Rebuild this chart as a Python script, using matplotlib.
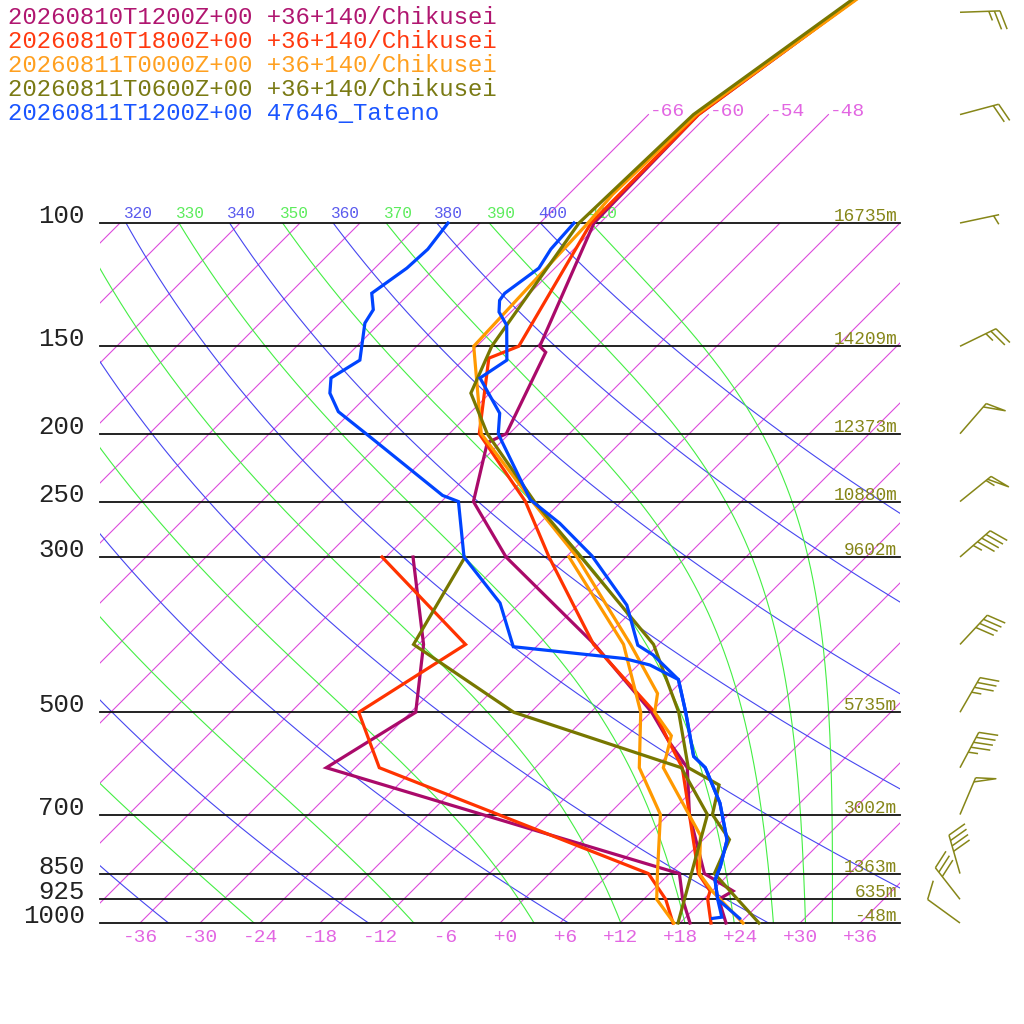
import numpy as np
import matplotlib
matplotlib.use('Agg')
import matplotlib.pyplot as plt
from matplotlib.patches import Rectangle
from matplotlib.transforms import IdentityTransform

# sounding data: pressure (hPa), temperature / dew point (degC)
legend_names = ['20260810T1200Z+00 +36+140/Chikusei',
                '20260810T1800Z+00 +36+140/Chikusei',
                '20260811T0000Z+00 +36+140/Chikusei',
                '20260811T0600Z+00 +36+140/Chikusei',
                '20260811T1200Z+00 47646_Tateno']
line_colors = ['#aa0a6a', '#ff3300', '#ff9900', '#777700', '#0044ff']
text_colors = ['#b01670', '#ff3a10', '#ffa020', '#7a7a14', '#1a55ff']

p_t1 = [30, 50, 70, 100, 150, 153, 200, 206, 250, 300, 400, 500, 550, 600, 700, 850, 900, 925, 1000]
t_1 = [-51.4, -57.3, -61.0, -60.6, -53.7, -52.5, -48.3, -49.3, -44.8, -36.0, -18.4, -5.9, -1.3, 3.2, 8.1,
       15.5, 20.1, 19.5, 22.6]
p_d1 = [300, 400, 500, 600, 850, 925, 1000]
td_1 = [-45.3, -35.5, -29.5, -32.9, 13.0, 15.9, 19.0]

p_t2 = [30, 50, 70, 100, 150, 156, 200, 250, 300, 400, 500, 550, 600, 700, 850, 900, 925, 1000]
t_2 = [-51.4, -57.3, -61.0, -60.9, -55.8, -57.6, -51.0, -39.6, -31.7, -18.5, -5.6, -1.3, 2.7, 8.1,
       14.9, 17.8, 18.4, 21.1]
p_d2 = [300, 400, 500, 600, 850, 925, 1000]
td_2 = [-48.4, -31.3, -35.2, -27.6, 9.9, 14.2, 17.3]

p_t3 = [30, 50, 70, 91, 100, 150, 200, 250, 300, 400, 470, 500, 540, 600, 750, 850, 900, 1000]
t_3 = [-51.3, -57.2, -61.2, -61.6, -61.2, -60.3, -50.8, -38.9, -28.9, -14.8, -7.2, -5.6, -1.6, 0.8,
       11.3, 15.0, 18.0, 24.3]
p_d3 = [300, 400, 500, 600, 700, 850, 925, 1000]
td_3 = [-29.7, -15.5, -7.0, -1.6, 5.2, 10.8, 13.3, 17.4]

p_t4 = [30, 50, 70, 100, 150, 175, 200, 250, 300, 400, 500, 600, 635, 700, 760, 850, 1000]
t_4 = [-51.7, -57.6, -61.5, -62.1, -58.5, -55.9, -50.2, -38.7, -28.5, -12.5, -3.2, 3.3, 8.1, 10.4,
       14.6, 16.5, 25.9]
p_d4 = [300, 400, 500, 600, 700, 1000]
td_4 = [-40.1, -36.5, -19.7, 2.6, 9.9, 17.8]

p_t5 = [100, 109, 116, 126, 129, 134, 140, 157, 166.5, 187, 200, 205, 248.5, 268.5, 299, 351.5, 401,
        414, 449, 500, 578, 600, 674, 761, 831, 868, 925, 985]
t_5 = [-62.6, -62.3, -61.6, -62.5, -62.3, -61.2, -59.1, -55.6, -56.5, -51.0, -49.1, -48.0, -39.3,
       -34.0, -27.5, -19.1, -14.0, -11.5, -6.5, -2.5, 2.7, 5.0, 10.0, 14.4, 16.4, 17.2, 19.4, 23.5]
p_d5 = [100, 109, 116, 126, 133, 139, 157, 166.5, 175, 186, 203, 245, 250, 300, 349, 403, 419, 428,
        449, 500, 578, 600, 674, 761, 831, 868, 925, 981, 985]
td_5 = [-75.2, -74.6, -74.8, -75.8, -74.0, -73.5, -70.3, -71.4, -70.0, -67.3, -61.3, -48.5, -46.3,
        -40.2, -32.0, -26.3, -14.0, -10.8, -6.5, -2.5, 2.7, 5.0, 10.0, 14.4, 16.4, 17.2, 19.4, 21.6, 20.8]

profiles = [(p_t1, t_1, p_d1, td_1), (p_t2, t_2, p_d2, td_2), (p_t3, t_3, p_d3, td_3),
            (p_t4, t_4, p_d4, td_4), (p_t5, t_5, p_d5, td_5)]

# wind barbs of the last model run (direction the wind comes from, knots)
wind_p = [50, 70, 100, 150, 200, 250, 300, 400, 500, 600, 700, 850, 925, 1000]
wind_dir = [88, 75, 78, 64, 41, 51, 49, 43, 30, 28, 23, 344, 322, 306]
wind_kt = [25, 20, 5, 25, 50, 55, 45, 40, 35, 45, 50, 40, 30, 10]

# pressure levels and their heights
levels = [100, 150, 200, 250, 300, 500, 700, 850, 925, 1000]
heights = [16735, 14209, 12373, 10880, 9602, 5735, 3002, 1363, 635, -48]

iso_ticks = [-36, -30, -24, -18, -12, -6, 0, 6, 12, 18, 24, 30, 36]
iso_top = [-66, -60, -54, -48]
dry_thetas = list(range(240, 401, 20))
moist_thetas = list(range(250, 411, 20))

MONO = 'Liberation Mono'
MAG = '#dc4cdc'
BLUE_BG = '#4646f0'
GREEN_BG = '#44ee44'
OLIVE = '#868618'


def skew(t, p):
    return np.asarray(t, dtype=float) + 70.0 * np.log10(1000.0 / np.asarray(p, dtype=float))


def theta_e_sat(tc, p):
    tk = tc + 273.15
    es = 6.112 * np.exp(17.67 * tc / (tc + 243.5))
    es = np.minimum(es, 0.5 * p)
    r = 0.622 * es / (p - es)
    return tk * (1000.0 / p) ** (0.2854 * (1 - 0.28 * r)) * np.exp((3376.0 / tk - 2.54) * r * (1 + 0.81 * r))


def moist_temp(the, p):
    lo = np.full_like(p, -170.0)
    hi = np.full_like(p, 60.0)
    for _ in range(60):
        mid = 0.5 * (lo + hi)
        up = theta_e_sat(mid, p) > the
        hi = np.where(up, mid, hi)
        lo = np.where(up, lo, mid)
    return 0.5 * (lo + hi)


def dry_temp(theta, p):
    return theta * (p / 1000.0) ** 0.2857 - 273.15


def draw_barb(ax, x, p, wdir, spd, color):
    # barb built in pixels around the station point
    x0, y0 = ax.transData.transform((x, p))
    a = np.radians(wdir)
    d = np.array([np.sin(a), np.cos(a)])
    n = np.array([d[1], -d[0]])
    base = np.array([x0, y0])
    L = 40.0
    pt = lambda s: base + s * d
    segs = [[pt(0), pt(L)]]
    nflag = spd // 50
    nfull = (spd - 50 * nflag) // 10
    nhalf = 1 if (spd - 50 * nflag - 10 * nfull) >= 5 else 0
    s = L
    for _ in range(nflag):
        segs.append([pt(s), pt(s) + 7 * d + 19 * n, pt(s - 4.5)])
        s -= 6.5
    for _ in range(nfull):
        segs.append([pt(s), pt(s) + 6.5 * d + 18.5 * n])
        s -= 5.6
    if nhalf:
        if nflag == 0 and nfull == 0:
            s -= 5.6
        segs.append([pt(s), pt(s) + 3.3 * d + 9.3 * n])
    for sg in segs:
        sg = np.array(sg)
        ax.plot(sg[:, 0], sg[:, 1], color=color, lw=1.1, transform=IdentityTransform(),
                clip_on=False, solid_capstyle='butt')


fig = plt.figure(figsize=(10.24, 10.24), dpi=100)
ax = fig.add_axes([0, 0, 1, 1])
ax.set_yscale('log')
XLIM = (-50, 52.4)
YLIM = (1000 * 10 ** (101 / 700), 1000 * 10 ** (-923 / 700))
ax.set_xlim(*XLIM)
ax.set_ylim(*YLIM)
ax.axis('off')

box = Rectangle((-40, 100), 80, 900, transform=ax.transData, fill=False, visible=False)
ax.add_patch(box)

pp = np.logspace(np.log10(1050), np.log10(95), 300)

# isotherms
for t in range(-126, 45, 6):
    ln, = ax.plot(skew([t, t], [1050, 95]), [1050, 95], color=MAG, lw=0.8, zorder=1)
    ln.set_clip_path(box)
for t in iso_top:
    ax.plot(skew([t, t], [100, 70]), [100, 70], color=MAG, lw=0.8, zorder=1)
    ax.text(skew(t, 70) + 0.1, 70.3, f'{t:+d}', color='#e266e2', fontsize=14, family=MONO,
            ha='left', va='baseline')

# dry adiabats (blue) and moist adiabats (green)
theta_labels = []
for th in dry_thetas:
    ln, = ax.plot(skew(dry_temp(th, pp), pp), pp, color=BLUE_BG, lw=0.8, zorder=1)
    ln.set_clip_path(box)
    theta_labels.append((skew(dry_temp(th, 100.0), 100), th, '#5a5aee'))
for th in moist_thetas:
    tm = moist_temp(th, pp)
    ln, = ax.plot(skew(tm, pp), pp, color=GREEN_BG, lw=0.8, zorder=1)
    ln.set_clip_path(box)
    t100 = moist_temp(th, np.array([100.0]))[0]
    theta_labels.append((skew(t100, 100), th, '#5cec5c'))

# labels only where the line meets the 100 hPa edge inside the diagram
for xl, th, col in theta_labels:
    if xl < -39.5:
        continue
    ax.text(xl - 0.25, 98.4, str(th), color=col, fontsize=11.6, family=MONO,
            ha='left', va='baseline', zorder=1.2)

# pressure levels
for lev, h in zip(levels, heights):
    ax.plot([-40, 40], [lev, lev], color='#111111', lw=1.3, zorder=1.5)
    ax.text(-41.5, lev, str(lev), fontsize=18.5, family=MONO, color='#222222', ha='right', va='baseline')
    ax.text(39.7, lev * 10 ** (-2 / 700), f'{h}m', fontsize=12.8, family=MONO, color=OLIVE,
            ha='right', va='baseline', zorder=1.6)

for t in iso_ticks:
    ax.text(t, 1000 * 10 ** (14 / 700), f'{t:+3d}', fontsize=14, family=MONO, color='#e266e2',
            ha='center', va='center')

# soundings
for (pt, tt, pd, td), col in zip(profiles, line_colors):
    ax.plot(skew(tt, pt), pt, color=col, lw=2.3, solid_joinstyle='miter', zorder=3)
    ax.plot(skew(td, pd), pd, color=col, lw=2.3, solid_joinstyle='miter', zorder=3)

# wind barbs
for p, wd, ws in zip(wind_p, wind_dir, wind_kt):
    draw_barb(ax, 46.0, p, wd, ws, OLIVE)

ax.set_xlim(*XLIM)
ax.set_ylim(*YLIM)

for i, (name, col) in enumerate(zip(legend_names, text_colors)):
    fig.text(8 / 1024, 1 - (24 + 24 * i) / 1024, name, fontsize=17.3, family=MONO, color=col,
             ha='left', va='baseline')

fig.savefig('out.png', dpi=100)
